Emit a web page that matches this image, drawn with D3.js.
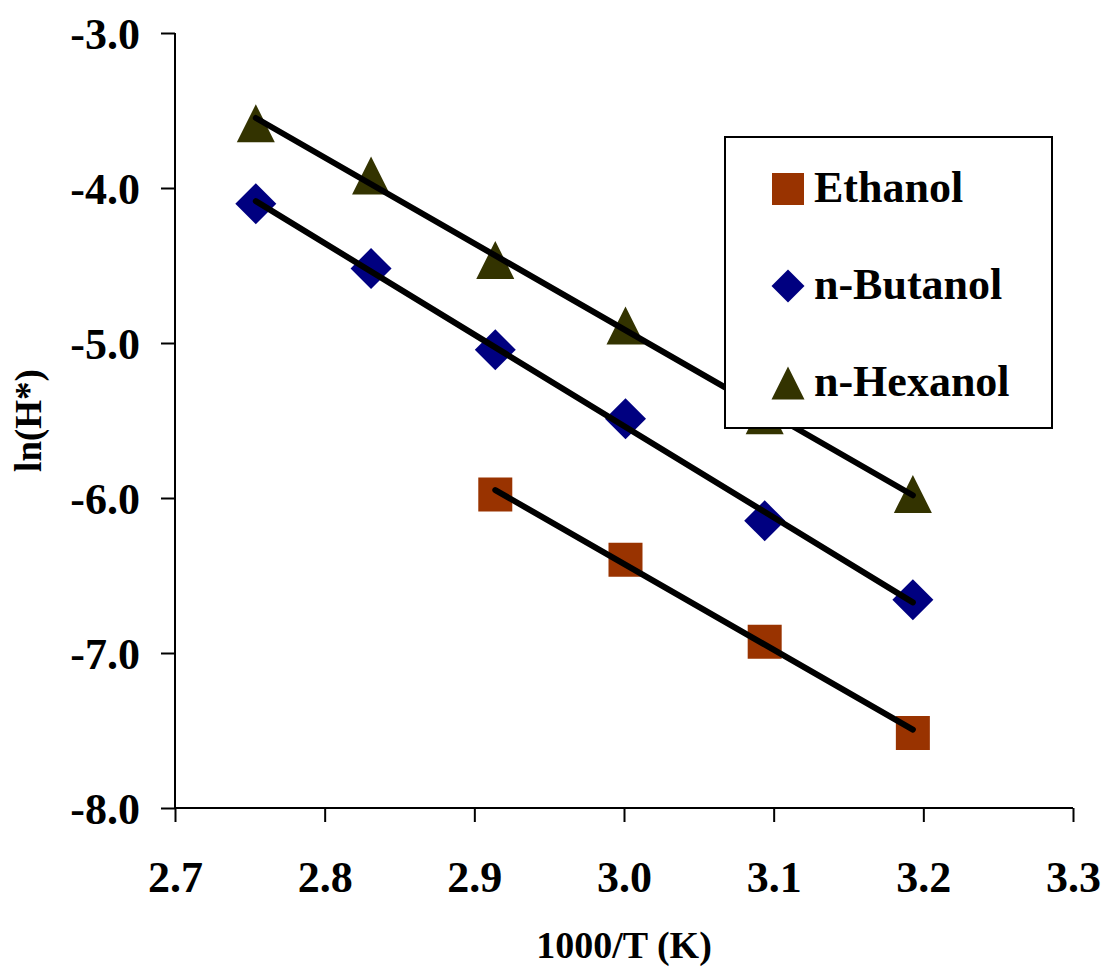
<!DOCTYPE html>
<html>
<head>
<meta charset="utf-8">
<script src="https://cdn.jsdelivr.net/npm/d3@7"></script>
<style>
  html, body { margin: 0; padding: 0; background: #fff; }
  svg { display: block; }
  text { font-family: "Liberation Serif", "Times New Roman", serif; font-weight: bold; fill: #000; }
</style>
</head>
<body>
<script>
// 1000/T (K) for the six measurement temperatures
const invTemp = [2.754, 2.831, 2.914, 3.001, 3.094, 3.193];

// ln(H*) per alcohol (ethanol has no values at the two highest temperatures)
const ethanol = [null, null, -5.978, -6.398, -6.927, -7.516];
const butanol = [-4.101, -4.520, -5.043, -5.489, -6.147, -6.657];
const hexanol = [-3.583, -3.919, -4.464, -4.887, -5.466, -5.974];

const seriesNames = ["Ethanol", "n-Butanol", "n-Hexanol"];
const xTicks = [2.7, 2.8, 2.9, 3.0, 3.1, 3.2, 3.3];
const yTicks = [-3, -4, -5, -6, -7, -8];

const W = 1105, H = 973;
const svg = d3.select("body").append("svg").attr("width", W).attr("height", H);

const x = d3.scaleLinear().domain([2.7, 3.3]).range([175, 1073]);
const y = d3.scaleLinear().domain([-8, -3]).range([808, 33]);

// one decimal, plain hyphen for negatives
const fmt = d => d.toFixed(1);

// marker path builders, centred on (0,0)
const markerPath = {
  square: s => `M${-s/2},${-s/2}H${s/2}V${s/2}H${-s/2}Z`,
  diamond: s => `M0,${-s/2}L${s/2},0L0,${s/2}L${-s/2},0Z`,
  triangle: s => `M0,${-s/2}L${s/2},${s/2}L${-s/2},${s/2}Z`
};

const series = [
  { name: seriesNames[0], values: ethanol, color: "#993300", shape: "square", size: 34, legendSize: 32 },
  { name: seriesNames[1], values: butanol, color: "#000080", shape: "diamond", size: 41, legendSize: 33 },
  { name: seriesNames[2], values: hexanol, color: "#333300", shape: "triangle", size: 38, legendSize: 33 }
];

// axes
const axisFont = 44;
const gx = svg.append("g").attr("transform", `translate(0,${y(-8)})`)
  .call(d3.axisBottom(x).tickValues(xTicks).tickFormat(fmt).tickSize(14).tickPadding(0));
const gy = svg.append("g").attr("transform", `translate(${x(2.7)},0)`)
  .call(d3.axisLeft(y).tickValues(yTicks).tickFormat(fmt).tickSize(14).tickPadding(0));

[gx, gy].forEach(g => {
  g.selectAll(".tick line").attr("stroke", "#000").attr("stroke-width", 2);
  g.selectAll(".tick text").attr("font-size", axisFont).attr("font-family", null);
});
gx.select(".domain").attr("stroke", "#000").attr("stroke-width", 2)
  .attr("d", `M${x(2.7)},0H${x(3.3)}`);
gy.select(".domain").attr("stroke", "#000").attr("stroke-width", 2)
  .attr("d", `M0,${y(-3)}V${y(-8)}`);
gx.selectAll(".tick text").attr("dy", null).attr("y", 84);
gy.selectAll(".tick text").attr("dy", null).attr("x", -35).attr("y", 15);

// axis titles
svg.append("text").attr("x", (x(2.7) + x(3.3)) / 2).attr("y", 958)
  .attr("text-anchor", "middle").attr("font-size", 38).text("1000/T (K)");
svg.append("text").attr("transform", `translate(41,${(y(-3) + y(-8)) / 2}) rotate(-90)`)
  .attr("text-anchor", "middle").attr("font-size", 37).text("ln(H*)");

// data markers
series.forEach(s => {
  const pts = invTemp.map((t, i) => [t, s.values[i]]).filter(p => p[1] != null);
  svg.append("g").selectAll("path").data(pts).join("path")
    .attr("transform", p => `translate(${x(p[0])},${y(p[1])})`)
    .attr("d", markerPath[s.shape](s.size))
    .attr("fill", s.color);
});

// least-squares trend lines across each series' range
series.forEach(s => {
  const pts = invTemp.map((t, i) => [t, s.values[i]]).filter(p => p[1] != null);
  const mx = d3.mean(pts, p => p[0]), my = d3.mean(pts, p => p[1]);
  const slope = d3.sum(pts, p => (p[0] - mx) * (p[1] - my)) / d3.sum(pts, p => (p[0] - mx) ** 2);
  const ends = d3.extent(pts, p => p[0]).map(t => [t, my + slope * (t - mx)]);
  svg.append("path")
    .attr("d", d3.line().x(p => x(p[0])).y(p => y(p[1]))(ends))
    .attr("fill", "none").attr("stroke", "#000").attr("stroke-width", 6)
    .attr("stroke-linecap", "round");
});

// legend
const lg = svg.append("g");
lg.append("rect").attr("x", 725).attr("y", 137).attr("width", 327).attr("height", 291)
  .attr("fill", "#fff").attr("stroke", "#000").attr("stroke-width", 2);
series.forEach((s, i) => {
  const cy = 189 + i * 97;
  lg.append("path").attr("transform", `translate(788,${cy})`)
    .attr("d", markerPath[s.shape](s.legendSize)).attr("fill", s.color);
  lg.append("text").attr("x", 814).attr("y", cy + 13).attr("font-size", 44).text(s.name);
});
</script>
</body>
</html>
